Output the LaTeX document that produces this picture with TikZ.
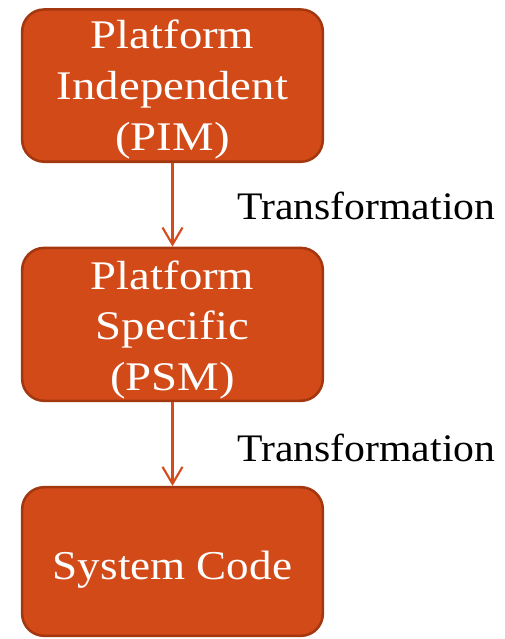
\documentclass[tikz,border=0pt]{standalone}
\usepackage{fontspec}
\setmainfont{Liberation Serif}
\newfontfamily\boxfont[FakeStretch=1.15]{Liberation Serif}
\newfontfamily\codefont[FakeStretch=1.1]{Liberation Serif}
\newfontfamily\labelfont[FakeStretch=1.07]{Liberation Serif}
\usetikzlibrary{arrows.meta}
\definecolor{boxfill}{HTML}{D24A18}
\definecolor{boxedge}{HTML}{A3370F}
\definecolor{flow}{HTML}{D44C1C}
\begin{document}
\begin{tikzpicture}[x=0.75pt,y=-0.75pt,
  stage/.style={draw=boxedge, fill=boxfill, line width=1.9pt,
    rounded corners=16.5pt, minimum width=225.5pt, inner sep=0pt},
  stagetext/.style={text=white, align=center, inner sep=0pt,
    font=\boxfont\fontsize{30.5pt}{37.9pt}\selectfont},
  codetext/.style={text=white, inner sep=0pt,
    font=\codefont\fontsize{30.75pt}{37.9pt}\selectfont},
  steplabel/.style={anchor=base west, inner sep=0pt,
    font=\labelfont\fontsize{29.25pt}{36pt}\selectfont},
  flowarrow/.style={draw=flow, line width=1.6pt,
    -{Straight Barb[length=12.75pt,width=15pt]}}]
\useasboundingbox (0,0) rectangle (504,639);

% model stages
\node[stage, minimum height=114.2pt] (pim) at (172.5,85.6) {};
\node[stage, minimum height=114.7pt] (psm) at (172.5,324.35) {};
\node[stage, minimum height=111.5pt] (code) at (172.5,561.5) {};

\node[stagetext] (pimtext) at (172.5,89.5) {Platform\\Independent\\(PIM)};
\node[stagetext] (psmtext) at (172.5,330) {Platform\\Specific\\(PSM)};
\node[codetext] (codetext) at (172.5,569.5) {System Code};

% transformations between stages
\draw[flowarrow] (pim.south) -- (psm.north);
\draw[flowarrow] (psm.south) -- (code.north);

\node[steplabel] (t1) at (237,219) {Transformation};
\node[steplabel] (t2) at (237,461) {Transformation};
\end{tikzpicture}
\end{document}
